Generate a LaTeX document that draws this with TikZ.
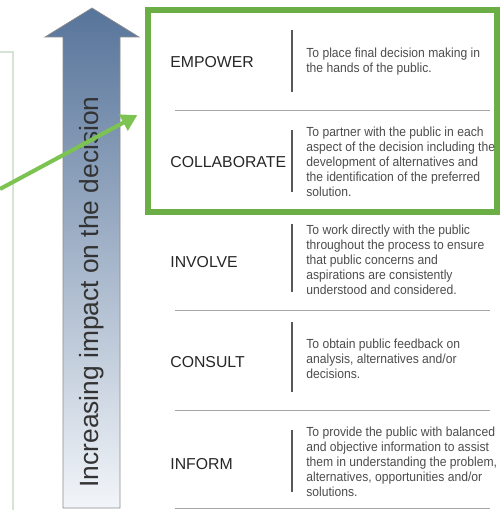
\documentclass[tikz,border=0pt]{standalone}
\usepackage{fontspec}
\setmainfont{Liberation Sans}
\newfontfamily\narrowfont[FakeStretch=0.92]{Liberation Sans}
\usetikzlibrary{arrows.meta}
\definecolor{boxgreen}{HTML}{6AAE45}
\definecolor{arrowgreen}{HTML}{7DC352}
\definecolor{arrowtop}{HTML}{57749A}
\definecolor{arrowbot}{HTML}{F2F5F9}
\definecolor{panelline}{HTML}{D5E4D5}
\tikzset{
  level/.style={anchor=west,font=\fontsize{9}{10}\selectfont,text=black!85,inner sep=0pt},
  descr/.style={anchor=west,align=left,font=\narrowfont\fontsize{7.5}{8.5}\selectfont,text=black!70,inner sep=0pt},
  sep/.style={draw=black!35,line width=0.5pt},
  bar/.style={draw=black!65,line width=0.7pt}
}
\begin{document}
\begin{tikzpicture}[x=0.02cm,y=-0.02cm]
\useasboundingbox (0,0) rectangle (500,510);
\draw [panelline,line width=0.6pt](0,52)--(13,52)--(13,510);
\shade [top color=arrowtop,bottom color=arrowbot](63,508)--(63,37)--(45,37)--(92,8)--(139,37)--(120,37)--(120,508)--cycle;
\draw [black!45,line width=0.4pt](63,508)--(63,37)--(45,37)--(92,8)--(139,37)--(120,37)--(120,508)--cycle;
\node [rotate=90,font=\fontsize{15}{15}\selectfont,text=black!80] (impact) at (92,292) {Increasing impact on the decision};
\node [draw=boxgreen,line width=3.4pt,minimum width=6.98cm,minimum height=4.04cm,inner sep=0pt] (box) at (322.5,111) {};
\coordinate (src) at (0,189);
\draw [-{Triangle[length=9pt,width=10pt]},arrowgreen,line width=2.3pt,shorten >=5pt](src)--(box.west);
\node [level] (emp) at (170,62) {EMPOWER};
\node [level] (col) at (170,162) {COLLABORATE};
\node [level] (inv) at (170,262) {INVOLVE};
\node [level] (con) at (170,362) {CONSULT};
\node [level] (inf) at (170,464) {INFORM};
\draw [bar](292,30)--(292,92);
\draw [bar](292,130)--(292,192);
\draw [bar](292,224)--(292,292);
\draw [bar](292,322)--(292,392);
\draw [bar](292,430)--(292,492);
\draw [sep](175,110)--(490,110);
\draw [sep](175,310)--(490,310);
\draw [sep](175,410)--(490,410);
\draw [sep](175,508)--(490,508);
\node [descr] (d-emp) at (306,62) {To place final decision making in\\the hands of the public.};
\node [descr] (d-col) at (306,162) {To partner with the public in each\\aspect of the decision including the\\development of alternatives and\\the identification of the preferred\\solution.};
\node [descr] (d-inv) at (306,260) {To work directly with the public\\throughout the process to ensure\\that public concerns and\\aspirations are consistently\\understood and considered.};
\node [descr] (d-con) at (306,359) {To obtain public feedback on\\analysis, alternatives and/or\\decisions.};
\node [descr] (d-inf) at (306,462) {To provide the public with balanced\\and objective information to assist\\them in understanding the problem,\\alternatives, opportunities and/or\\solutions.};
\end{tikzpicture}
\end{document}
